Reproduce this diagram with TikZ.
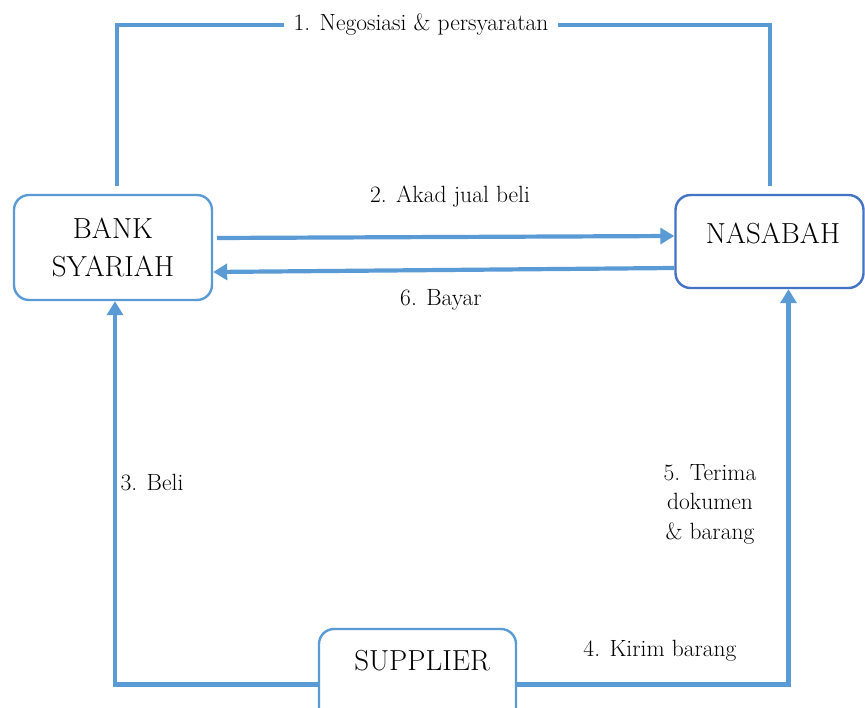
\documentclass[tikz,border=0pt]{standalone}
\usetikzlibrary{arrows.meta}
\definecolor{lblue}{HTML}{5B9BD5}
\definecolor{dblue}{HTML}{4472C4}
\tikzset{
  box/.style={draw=lblue, line width=2.4pt, rounded corners=15pt, fill=white, inner sep=0pt},
  boxtext/.style={font=\fontsize{29}{38}\selectfont, align=center, inner sep=0pt},
  lbl/.style={font=\fontsize{23.5}{29.5}\selectfont, align=center, inner sep=0pt},
  conn/.style={draw=lblue, line width=4.2pt},
  arr/.style={conn, -{Triangle[length=14pt,width=16pt]}},
}
\begin{document}
\begin{tikzpicture}[x=1pt,y=-1pt]
\clip (0,0) rectangle (865,708);
\fill[white] (0,0) rectangle (865,708);
% boxes
\node[box, minimum width=198pt, minimum height=105pt] (bank) at (113,247.5) {};
\node[boxtext] (banktxt) at (113,247) {BANK\\SYARIAH};
\node[box, draw=dblue, minimum width=188pt, minimum height=93pt] (nas) at (769.5,241.5) {};
\node[boxtext] (nastxt) at (773,233) {NASABAH};
\node[box, minimum width=197pt, minimum height=111pt] (sup) at (417.5,684.5) {};
\node[boxtext] (suptxt) at (422,661) {SUPPLIER};
% 1. negotiation
\node[lbl] (l1) at (421,25) {1. Negosiasi \& persyaratan};
\coordinate (c1a) at (117,186);
\coordinate (c1b) at (770,186);
\draw[conn] (c1a) |- ([xshift=-9pt]l1.west);
\draw[conn] (c1b) |- ([xshift=9pt]l1.east);
% 2 and 6
\coordinate (c2) at (217,238);
\draw[arr] (c2) -- ([yshift=5.5pt]nas.west);
\draw[arr] ([yshift=-26.5pt]nas.west) -- ([yshift=-24.5pt]bank.east);
\node[lbl] (l2) at (450,197) {2. Akad jual beli};
\node[lbl] (l6) at (441,300) {6. Bayar};
% 3 and 4
\draw[arr] (sup.west) -| ([xshift=2pt]bank.south);
\draw[arr] (sup.east) -| ([xshift=19pt]nas.south);
\node[lbl] (l3) at (152,483) {3. Beli};
\node[lbl] (l5) at (710,504) {5. Terima\\dokumen\\\& barang};
\node[lbl] (l4) at (660,651) {4. Kirim barang};
\end{tikzpicture}
\end{document}
